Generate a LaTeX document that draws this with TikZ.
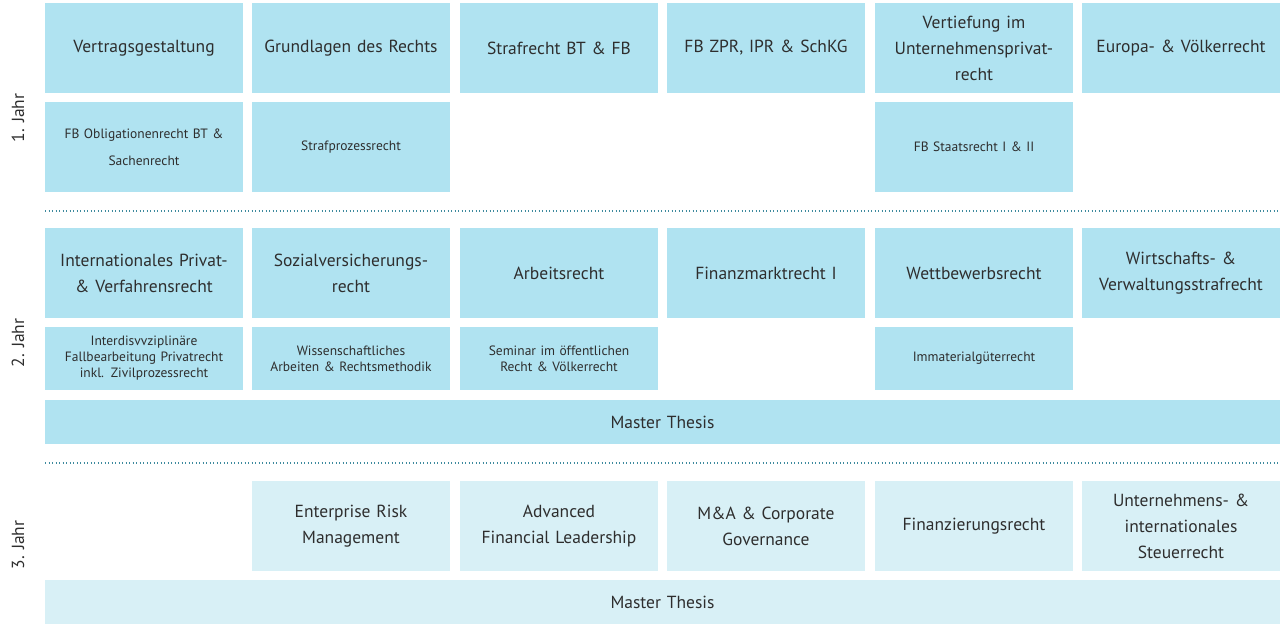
\documentclass[tikz,border=0pt]{standalone}
\usepackage{fontspec}
\setmainfont{PT Sans}
\definecolor{dk}{HTML}{B0E3F1}
\definecolor{lt}{HTML}{D8F0F6}
\definecolor{tx}{HTML}{2E2E2E}
\definecolor{dot}{HTML}{3E8A9E}
\begin{document}
\begin{tikzpicture}[x=1pt,y=-1pt,
  box/.style={inner sep=0pt,text=tx,align=center,font=\fontsize{17.5}{26}\selectfont},
  sm/.style={font=\fontsize{13.5}{16}\selectfont},
  dkbox/.style={box,fill=dk},
  ltbox/.style={box,fill=lt},
  yr/.style={rotate=90,text=tx,font=\fontsize{17.5}{20}\selectfont},
  sep/.style={dot,line width=1.3pt,dash pattern=on 1.3pt off 2.2pt}]
\useasboundingbox (0,0) rectangle (1280,628);
\newcommand\bx[7]{\node[#5,minimum width=#3-#1,minimum height=#4-#2,text width=#3-#1-4] (#7) at ({(#1+#3)/2},{(#2+#4)/2}) {#6};}
% year 1
\bx{45}{3}{243}{93}{dkbox}{Vertragsgestaltung}{a1}
\bx{252}{3}{450}{93}{dkbox}{Grundlagen des Rechts}{a2}
\bx{460}{3}{658}{93}{dkbox}{Strafrecht BT \& FB}{a3}
\bx{667}{3}{865}{93}{dkbox}{FB ZPR, IPR \& SchKG}{a4}
\bx{875}{3}{1073}{93}{dkbox}{Vertiefung im\\Unternehmensprivat-\\recht}{a5}
\bx{1082}{3}{1280}{93}{dkbox}{Europa- \& Völkerrecht}{a6}
\bx{45}{102}{243}{192}{dkbox,sm,font=\fontsize{13.5}{27}\selectfont}{FB Obligationenrecht BT \&\\Sachenrecht}{b1}
\bx{252}{102}{450}{192}{dkbox,sm}{Strafprozessrecht}{b2}
\bx{875}{102}{1073}{192}{dkbox,sm}{FB Staatsrecht I \& II}{b5}
\node[yr] (y1) at (18,118) {1. Jahr};
\coordinate (s1a) at (45,211); \coordinate (s1b) at (1280,211);
\draw[sep] (s1a) -- (s1b);
% year 2
\bx{45}{228}{243}{318}{dkbox}{Internationales Privat-\\\& Verfahrensrecht}{c1}
\bx{252}{228}{450}{318}{dkbox}{Sozialversicherungs-\\recht}{c2}
\bx{460}{228}{658}{318}{dkbox}{Arbeitsrecht}{c3}
\bx{667}{228}{865}{318}{dkbox}{Finanzmarktrecht I}{c4}
\bx{875}{228}{1073}{318}{dkbox}{Wettbewerbsrecht}{c5}
\bx{1082}{228}{1280}{318}{dkbox}{Wirtschafts- \&\\Verwaltungsstrafrecht}{c6}
\bx{45}{327}{243}{390}{dkbox,sm}{Interdisvvziplinäre\\Fallbearbeitung Privatrecht\\inkl. Zivilprozessrecht}{d1}
\bx{252}{327}{450}{390}{dkbox,sm}{Wissenschaftliches\\Arbeiten \& Rechtsmethodik}{d2}
\bx{460}{327}{658}{390}{dkbox,sm}{Seminar im öffentlichen\\Recht \& Völkerrecht}{d3}
\bx{875}{327}{1073}{390}{dkbox,sm}{Immaterialgüterrecht}{d5}
\bx{45}{400}{1280}{444}{dkbox}{Master Thesis}{t2}
\node[yr] (y2) at (18,343) {2. Jahr};
\coordinate (s2a) at (45,463); \coordinate (s2b) at (1280,463);
\draw[sep] (s2a) -- (s2b);
% year 3
\bx{252}{481}{450}{571}{ltbox}{Enterprise Risk\\Management}{e2}
\bx{460}{481}{658}{571}{ltbox}{Advanced\\Financial Leadership}{e3}
\bx{667}{481}{865}{571}{ltbox}{M\&A \& Corporate\\Governance}{e4}
\bx{875}{481}{1073}{571}{ltbox}{Finanzierungsrecht}{e5}
\bx{1082}{481}{1280}{571}{ltbox}{Unternehmens- \&\\internationales\\Steuerrecht}{e6}
\bx{45}{580}{1280}{624}{ltbox}{Master Thesis}{t3}
\node[yr] (y3) at (18,545) {3. Jahr};
\end{tikzpicture}
\end{document}
